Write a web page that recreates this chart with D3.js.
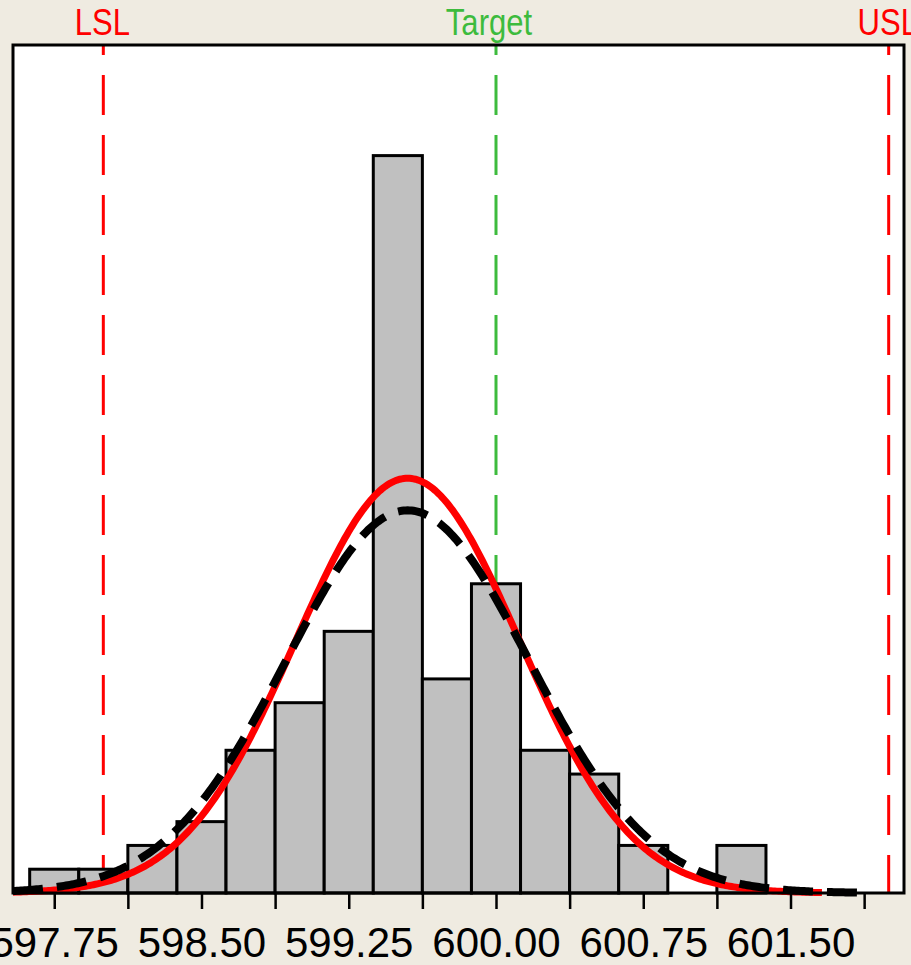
<!DOCTYPE html>
<html>
<head>
<meta charset="utf-8">
<script src="https://cdn.jsdelivr.net/npm/d3@7"></script>
<style>
  html, body { margin: 0; padding: 0; background: #efebe1; }
  svg { display: block; }
</style>
</head>
<body>
<svg id="chart" width="911" height="965"></svg>
<script>
// histogram bins (lower edge) and counts
var binStarts = [597.625, 597.875, 598.125, 598.375, 598.625, 598.875, 599.125,
                 599.375, 599.625, 599.875, 600.125, 600.375, 600.625, 600.875, 601.125];
var counts = [1, 1, 2, 3, 6, 8, 11, 31, 9, 13, 6, 5, 2, 0, 2];
var binWidth = 0.25;
var tickValues = [597.75, 598.125, 598.50, 598.875, 599.25, 599.625, 600.00,
                  600.375, 600.75, 601.125, 601.50, 601.875];
var tickLabels = [597.75, 598.50, 599.25, 600.00, 600.75, 601.50];
var specLimits = [
  {name: "LSL", value: 598.0, color: "#ff0000", dx: -1},
  {name: "Target", value: 600.0, color: "#3dbb3d", dx: -7},
  {name: "USL", value: 602.0, color: "#ff0000", dx: -1}
];
// fitted normal curves: within (solid red) and overall (dashed black)
var fits = [
  {name: "within", mean: 599.55, sd: 0.572, from: 597.54, to: 601.66, color: "#ff0000", width: 7, dash: null},
  {name: "overall", mean: 599.55, sd: 0.620, from: 597.54, to: 601.85, color: "#000000", width: 8, dash: "30,14"}
];
var total = d3.sum(counts);

var plotL = 13, plotR = 904, plotT = 45, plotB = 893;
var svg = d3.select("#chart");

var x = d3.scaleLinear().domain([597.54, 602.078]).range([plotL, plotR]);
var y = d3.scaleLinear().domain([0, 35.65]).range([plotB, plotT]);

svg.append("rect")
  .attr("x", plotL).attr("y", plotT)
  .attr("width", plotR - plotL).attr("height", plotB - plotT)
  .attr("fill", "#ffffff");

// spec limit lines
svg.selectAll("line.spec")
  .data(specLimits)
  .enter().append("line")
  .attr("class", "spec")
  .attr("x1", function(d){ return x(d.value); })
  .attr("x2", function(d){ return x(d.value); })
  .attr("y1", plotT).attr("y2", plotB)
  .attr("stroke", function(d){ return d.color; })
  .attr("stroke-width", 3)
  .attr("stroke-dasharray", "40,20")
  .attr("stroke-dashoffset", 30);

svg.selectAll("text.spec")
  .data(specLimits)
  .enter().append("text")
  .attr("class", "spec")
  .attr("transform", function(d){ return "translate(" + (x(d.value) + d.dx) + ",35) scale(0.84,1)"; })
  .attr("text-anchor", "middle")
  .style("font-family", "'Liberation Sans', Arial, sans-serif")
  .style("font-size", "37px")
  .style("fill", function(d){ return d.color; })
  .text(function(d){ return d.name; });

// bars
svg.selectAll("rect.bar")
  .data(binStarts.map(function(s, i){ return {x0: s, x1: s + binWidth, n: counts[i]}; })
          .filter(function(d){ return d.n > 0; }))
  .enter().append("rect")
  .attr("class", "bar")
  .attr("x", function(d){ return x(d.x0); })
  .attr("y", function(d){ return y(d.n); })
  .attr("width", function(d){ return x(d.x1) - x(d.x0); })
  .attr("height", function(d){ return y(0) - y(d.n); })
  .attr("fill", "#c0c0c0")
  .attr("stroke", "#000")
  .attr("stroke-width", 3);

// normal curves
var line = d3.line()
  .x(function(d){ return x(d[0]); })
  .y(function(d){ return y(d[1]); });

fits.forEach(function(f){
  var pts = d3.range(f.from, f.to, 0.01).concat([f.to]).map(function(v){
    var z = (v - f.mean) / f.sd;
    return [v, total * binWidth * Math.exp(-0.5 * z * z) / (f.sd * Math.sqrt(2 * Math.PI))];
  });
  svg.append("path")
    .datum(pts)
    .attr("d", line)
    .attr("fill", "none")
    .attr("stroke", f.color)
    .attr("stroke-width", f.width)
    .attr("stroke-dasharray", f.dash);
});

// frame
svg.append("rect")
  .attr("x", plotL).attr("y", plotT)
  .attr("width", plotR - plotL).attr("height", plotB - plotT)
  .attr("fill", "none")
  .attr("stroke", "#000")
  .attr("stroke-width", 3);

// x axis
var axis = svg.append("g")
  .attr("transform", "translate(0," + plotB + ")")
  .call(d3.axisBottom(x).tickValues(tickValues).tickSize(16).tickSizeOuter(0)
    .tickFormat(function(d){ return tickLabels.indexOf(d) >= 0 ? d3.format(".2f")(d) : ""; }));
axis.select(".domain").remove();
axis.selectAll(".tick line").attr("stroke", "#000").attr("stroke-width", 2.5);
axis.selectAll(".tick text")
  .attr("y", 34)
  .attr("dy", "0.71em")
  .style("font-family", "'Liberation Sans', Arial, sans-serif")
  .style("font-size", "42px")
  .style("fill", "#000");
</script>
</body>
</html>
